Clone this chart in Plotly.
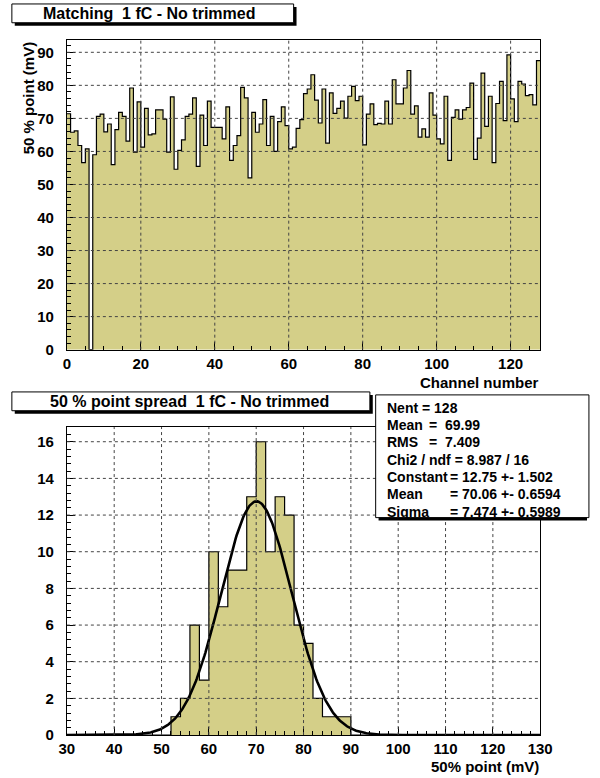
import numpy as np
import plotly.graph_objects as go

# ---------------- data ----------------
channel_values = [
    71.4, 65.8, 66.2, 61.8, 56.6, 60.8, 0.0, 59.0, 70.6, 71.3,
    65.9, 68.3, 56.0, 66.6, 71.8, 70.6, 63.1, 79.2, 59.8, 75.0,
    61.3, 73.0, 65.0, 65.3, 72.6, 72.6, 69.8, 59.8, 76.5, 54.6,
    60.3, 63.5, 70.6, 71.3, 76.2, 55.5, 71.0, 61.8, 75.2, 67.3,
    67.3, 67.3, 63.8, 73.5, 57.3, 61.8, 64.8, 79.4, 76.2, 52.0,
    71.8, 65.8, 68.3, 75.7, 61.8, 70.6, 60.0, 69.0, 73.5, 67.8,
    60.8, 61.3, 67.0, 69.6, 77.5, 78.9, 83.2, 75.5, 68.6, 78.9,
    62.5, 77.7, 71.5, 73.0, 75.2, 70.1, 76.7, 79.7, 75.4, 76.7,
    62.0, 71.3, 74.4, 68.1, 68.5, 68.3, 75.2, 68.3, 81.7, 74.4,
    74.4, 79.2, 84.5, 71.3, 73.8, 64.3, 66.8, 64.3, 77.7, 71.0,
    63.8, 62.3, 76.7, 57.3, 70.3, 72.6, 69.8, 72.6, 73.3, 80.7,
    57.6, 64.0, 83.7, 67.6, 76.7, 56.6, 74.5, 81.2, 69.3, 89.2,
    75.9, 69.0, 81.2, 80.4, 76.9, 77.2, 74.1, 87.5,
]
channel_edges = list(range(0, 129))

spread_edges = list(range(30, 132, 2))          # 50 bins of 2 mV
spread_counts = [
    0, 0, 0, 0, 0, 0, 0, 0, 0, 0,
    0, 1, 2, 6, 3, 10, 7, 9, 9, 13,
    16, 10, 13, 12, 6, 5, 2, 1, 1, 1,
    0, 0, 0, 0, 0, 0, 0, 0, 0, 0,
    0, 0, 0, 0, 0, 0, 0, 0, 0, 0,
]

fit_constant = 12.75
fit_mean = 70.06
fit_sigma = 7.474

top_xticks = [0, 20, 40, 60, 80, 100, 120]
top_yticks = [0, 10, 20, 30, 40, 50, 60, 70, 80, 90]
bot_xticks = [30, 40, 50, 60, 70, 80, 90, 100, 110, 120, 130]
bot_yticks = [0, 2, 4, 6, 8, 10, 12, 14, 16]

stats_lines = [
    ("Nent = 128", None),
    ("Mean", "=  69.99"),
    ("RMS", "=  7.409"),
    ("Chi2 / ndf = 8.987 / 16", None),
    ("Constant", "= 12.75 +- 1.502"),
    ("Mean", "= 70.06 +- 0.6594"),
    ("Sigma", "= 7.474 +- 0.5989"),
]

# ---------------- style ----------------
W, H = 600, 778
FILL = "rgb(212,207,136)"
FONT = "Liberation Sans"


def px(x):
    return x / W


def py(y):
    return 1 - y / H


XDOM = [px(61), px(551.5)]
TOP_YDOM = [py(353.3), py(40.5)]
BOT_YDOM = [py(742.7), py(431.5)]

fig = go.Figure()

fig.add_trace(go.Scatter(
    x=channel_edges, y=channel_values + [channel_values[-1]],
    mode="lines", line=dict(shape="hv", color="black", width=1.2),
    fill="tozeroy", fillcolor=FILL, xaxis="x", yaxis="y", showlegend=False,
    hoverinfo="skip"))

fig.add_trace(go.Scatter(
    x=spread_edges, y=spread_counts + [spread_counts[-1]],
    mode="lines", line=dict(shape="hv", color="black", width=1.2),
    fill="tozeroy", fillcolor=FILL, xaxis="x2", yaxis="y2", showlegend=False,
    hoverinfo="skip"))

gx = np.linspace(30, 130, 500)
gy = fit_constant * np.exp(-0.5 * ((gx - fit_mean) / fit_sigma) ** 2)
fig.add_trace(go.Scatter(
    x=gx, y=gy, mode="lines", line=dict(color="black", width=2.6),
    xaxis="x2", yaxis="y2", showlegend=False, hoverinfo="skip"))

tickfont = dict(family=FONT, size=15, color="black", weight="bold")
common = dict(showgrid=False, zeroline=False, showline=True, mirror=True,
              linecolor="black", linewidth=1, ticks="inside", ticklen=8,
              tickwidth=1, tickcolor="black", tickfont=tickfont)

fig.update_layout(
    width=W, height=H, margin=dict(l=0, r=0, t=0, b=0),
    paper_bgcolor="white", plot_bgcolor="white",
    xaxis=dict(domain=XDOM, range=[0, 128], anchor="y", tickvals=top_xticks,
               minor=dict(dtick=5, ticklen=4, ticks="inside", tickcolor="black"),
               ticklabelstandoff=0, **common),
    yaxis=dict(domain=TOP_YDOM, range=[0, 93.7], anchor="x", tickvals=top_yticks,
               minor=dict(dtick=2, ticklen=4, ticks="inside", tickcolor="black"),
               ticklabelstandoff=9, **common),
    xaxis2=dict(domain=XDOM, range=[30, 130], anchor="y2", tickvals=bot_xticks,
                minor=dict(dtick=2, ticklen=4, ticks="inside", tickcolor="black"),
                ticklabelstandoff=0, **common),
    yaxis2=dict(domain=BOT_YDOM, range=[0, 16.8], anchor="x2", tickvals=bot_yticks,
                minor=dict(dtick=0.4, ticklen=4, ticks="inside", tickcolor="black"),
                ticklabelstandoff=9, **common),
)

# grid lines drawn above the histograms (as ROOT does)
grid = dict(color="#444", width=1, dash="dot")
shapes = []
for v in top_xticks[1:]:
    shapes.append(dict(type="line", xref="x", yref="y domain", x0=v, x1=v, y0=0, y1=1,
                       line=grid, layer="above"))
for v in top_yticks[1:]:
    shapes.append(dict(type="line", xref="x domain", yref="y", x0=0, x1=1, y0=v, y1=v,
                       line=grid, layer="above"))
for v in bot_xticks[1:-1]:
    shapes.append(dict(type="line", xref="x2", yref="y2 domain", x0=v, x1=v, y0=0, y1=1,
                       line=grid, layer="above"))
for v in bot_yticks[1:]:
    shapes.append(dict(type="line", xref="x2 domain", yref="y2", x0=0, x1=1, y0=v, y1=v,
                       line=grid, layer="above"))


def pave(x0, y0, x1, y1, shadow=3):
    shapes.append(dict(type="rect", xref="paper", yref="paper",
                       x0=px(x0 + shadow), x1=px(min(x1 + shadow, W)), y0=py(y1 + shadow), y1=py(y0 + shadow),
                       fillcolor="black", line=dict(width=0), layer="above"))
    shapes.append(dict(type="rect", xref="paper", yref="paper",
                       x0=px(x0), x1=px(x1), y0=py(y1), y1=py(y0),
                       fillcolor="white", line=dict(color="black", width=1), layer="above"))


pave(4, 4, 296, 23)
pave(4, 396, 375, 415)
pave(381, 399, 602, 523)

fig.update_layout(shapes=shapes)

ann = []


def text(x, y, s, size, xanchor="left", yanchor="middle", angle=0):
    ann.append(dict(xref="paper", yref="paper", x=px(x), y=py(y), text=s,
                    showarrow=False, xanchor=xanchor, yanchor=yanchor, textangle=angle,
                    font=dict(family=FONT, size=size, color="black", weight="bold")))


text(146, 14, "Matching\u00a0\u00a01 fC - No trimmed", 16, xanchor="center")
text(188, 406, "50 % point spread\u00a0\u00a01 fC - No trimmed", 16, xanchor="center")
text(21, 40, "50 % point (mV)", 15, xanchor="center", yanchor="top", angle=-90)
text(552, 386, "Channel number", 15, xanchor="right")
text(552, 774, "50% point (mV)", 15, xanchor="right")

for i, (lab, val) in enumerate(stats_lines):
    yy = 412 + 17.5 * i
    text(391, yy, lab, 14)
    if val is not None:
        vx = 434 if i < 3 else 456
        text(vx, yy, val.replace("  ", "\u00a0\u00a0"), 14)

fig.update_layout(annotations=ann)

fig.write_html(
    "out.html",
    post_script="document.body.style.margin='0';document.body.style.overflow='hidden';",
)
